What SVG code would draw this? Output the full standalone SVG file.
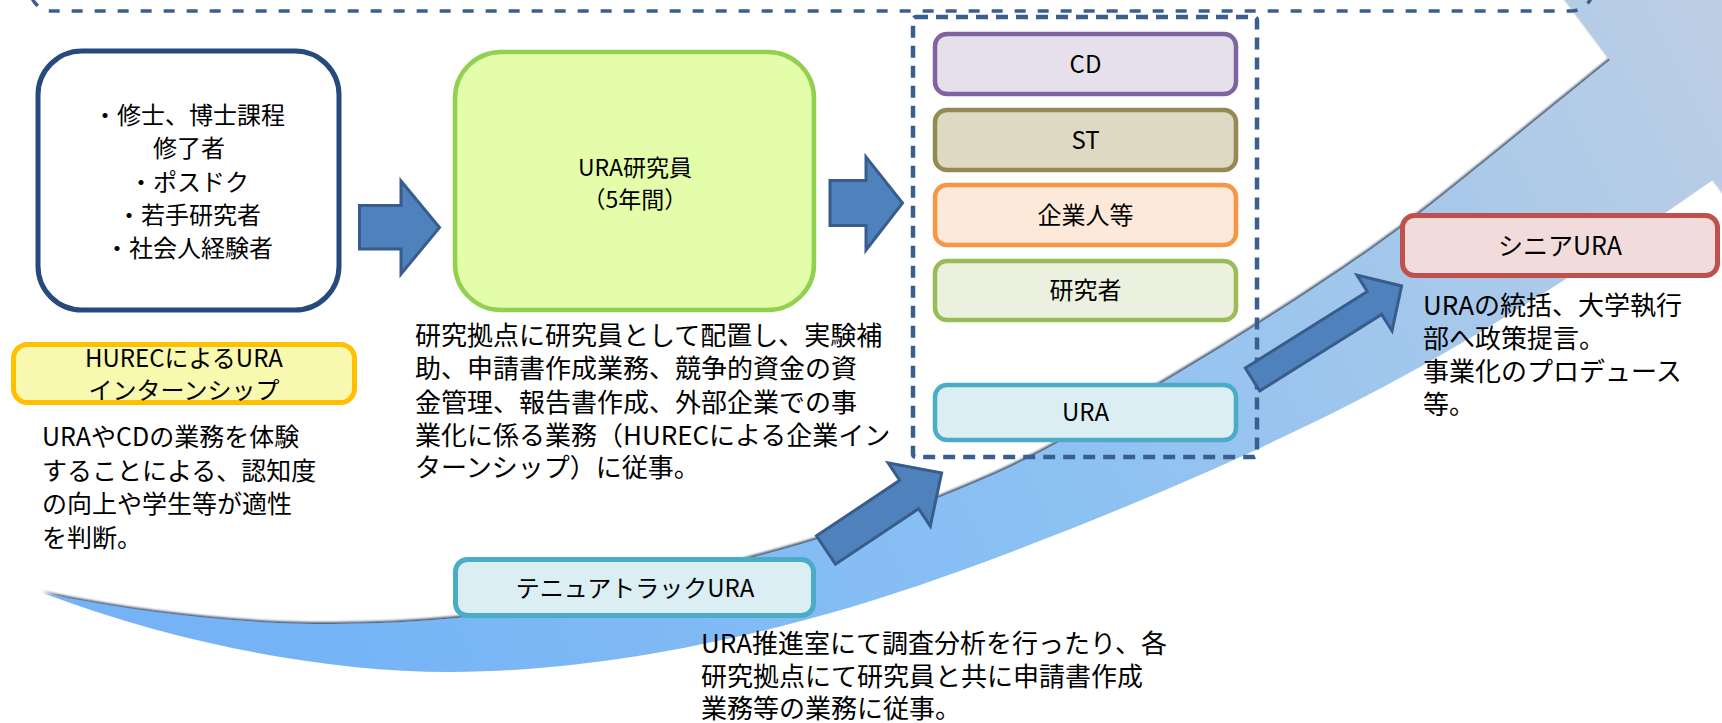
<svg xmlns="http://www.w3.org/2000/svg" width="1722" height="723" viewBox="0 0 1722 723">
<defs>
  <style>
    .t { font-family: "Noto Sans CJK JP", "Noto Sans", sans-serif; fill: #000; }
    .c { text-anchor: middle; }
    .arrow { fill: #4F81BD; stroke: #385D8A; stroke-width: 3; stroke-linejoin: miter; }
    .dash { fill: none; stroke: #3A5F8F; }
  </style>
  <linearGradient id="swg" gradientUnits="userSpaceOnUse" x1="300" y1="690" x2="1700" y2="0">
    <stop offset="0" stop-color="#74B3F6"/>
    <stop offset="0.5" stop-color="#8CC1F3"/>
    <stop offset="1" stop-color="#BCCEE4"/>
  </linearGradient>
  <filter id="sh" x="-5%" y="-5%" width="110%" height="110%">
    <feGaussianBlur in="SourceAlpha" stdDeviation="1.2" result="b"/>
    <feOffset in="b" dx="-1" dy="-2" result="o"/>
    <feFlood flood-color="#1C3354" flood-opacity="0.8"/>
    <feComposite in2="o" operator="in" result="s"/>
    <feMerge><feMergeNode in="s"/><feMergeNode in="SourceGraphic"/></feMerge>
  </filter>
</defs>
<rect width="1722" height="723" fill="#FFFFFF"/>

<g id="swoosh">
  <path filter="url(#sh)" fill="url(#swg)" d="M43,593 C180,645 330,672 450,672 C600,672 780,635 940,578 C1100,521 1280,445 1420,367 C1520,311 1620,245 1713,180 L1773,260 L1900,-150 L1520,-60 L1610,60 C1550,108 1480,166 1420,213 C1340,276 1180,375 1057,443 C900,530 650,590 457,618 C330,630 200,625 43,593 Z"/>
</g>

<g id="top-frame">
  <rect class="dash" x="30" y="-200" width="1563" height="211" rx="22" stroke-width="3.5" stroke-dasharray="11 12"/>
</g>

<g id="node-candidates">
  <rect x="38" y="51" width="301" height="259" rx="44" fill="#FFFFFF" stroke="#274A7C" stroke-width="5"/>
  <text class="t c" font-size="24" x="189" y="124">・修士、博士課程<tspan x="189" dy="33">修了者</tspan><tspan x="189" dy="34">・ポスドク</tspan><tspan x="189" dy="33">・若手研究者</tspan><tspan x="189" dy="33">・社会人経験者</tspan></text>
</g>

<g id="node-ura-researcher">
  <rect x="455" y="52" width="359" height="258" rx="46" fill="#E3FDAA" stroke="#92D050" stroke-width="4.5"/>
  <text class="t c" font-size="23" x="635" y="176">URA研究員<tspan x="635" dy="32">（5年間）</tspan></text>
</g>

<g id="node-ura-researcher-desc">
  <text class="t" font-size="26" x="415" y="345">研究拠点に研究員として配置し、実験補<tspan x="415" dy="33">助、申請書作成業務、競争的資金の資</tspan><tspan x="415" dy="34">金管理、報告書作成、外部企業での事</tspan><tspan x="415" dy="33">業化に係る業務（HURECによる企業イン</tspan><tspan x="415" dy="32">ターンシップ）に従事。</tspan></text>
</g>

<g id="node-hurec">
  <rect x="13.5" y="344.5" width="341" height="58" rx="14" fill="#F8F9AF" stroke="#FFC000" stroke-width="5"/>
  <text class="t c" font-size="24" x="184" y="367">HURECによるURA<tspan x="184" dy="32">インターンシップ</tspan></text>
</g>

<g id="node-hurec-desc">
  <text class="t" font-size="25" x="42" y="446">URAやCDの業務を体験<tspan x="42" dy="34">することによる、認知度</tspan><tspan x="42" dy="33">の向上や学生等が適性</tspan><tspan x="42" dy="34">を判断。</tspan></text>
</g>

<g id="node-career-group">
  <rect class="dash" x="913" y="17" width="344" height="440" rx="3" stroke-width="4.5" stroke-dasharray="12 8"/>
</g>
<g id="node-cd">
  <rect x="935" y="34" width="301" height="60" rx="12" fill="#E5E0EC" stroke="#8064A2" stroke-width="4.5"/>
  <text class="t c" font-size="24" x="1085.5" y="73">CD</text>
</g>
<g id="node-st">
  <rect x="935" y="110" width="301" height="60" rx="12" fill="#DDD9C3" stroke="#948A54" stroke-width="4.5"/>
  <text class="t c" font-size="24" x="1085.5" y="149">ST</text>
</g>
<g id="node-company">
  <rect x="935" y="185" width="301" height="60" rx="12" fill="#FDE9D9" stroke="#F79646" stroke-width="4.5"/>
  <text class="t c" font-size="24" x="1085.5" y="224">企業人等</text>
</g>
<g id="node-researcher">
  <rect x="935" y="261" width="301" height="59" rx="12" fill="#EBF1DE" stroke="#9BBB59" stroke-width="4.5"/>
  <text class="t c" font-size="24" x="1085.5" y="299">研究者</text>
</g>
<g id="node-ura">
  <rect x="935" y="385" width="301" height="55" rx="12" fill="#DBEEF4" stroke="#4BACC6" stroke-width="4.5"/>
  <text class="t c" font-size="24" x="1085.5" y="421">URA</text>
</g>

<g id="node-senior">
  <rect x="1402.5" y="215.5" width="315" height="60" rx="12" fill="#F2DCDB" stroke="#C0504D" stroke-width="5"/>
  <text class="t c" font-size="25" x="1560" y="255">シニアURA</text>
</g>
<g id="node-senior-desc">
  <text class="t" font-size="26" x="1423" y="315">URAの統括、大学執行<tspan x="1423" dy="33">部へ政策提言。</tspan><tspan x="1423" dy="33">事業化のプロデュース</tspan><tspan x="1423" dy="33">等。</tspan></text>
</g>

<g id="node-tenure">
  <rect x="455.5" y="559.5" width="358" height="56" rx="12" fill="#DBEEF4" stroke="#4BACC6" stroke-width="5"/>
  <text class="t c" font-size="24" x="635" y="597">テニュアトラックURA</text>
</g>
<g id="node-tenure-desc">
  <text class="t" font-size="26" x="701" y="653">URA推進室にて調査分析を行ったり、各<tspan x="701" dy="33">研究拠点にて研究員と共に申請書作成</tspan><tspan x="701" dy="32">業務等の業務に従事。</tspan></text>
</g>

<g id="connectors">
  <polygon class="arrow" points="359.5,205.5 401,205.5 401,181 439.5,227.5 401,274 401,249 359.5,249"/>
  <polygon class="arrow" points="830,180.5 866,180.5 866,157 902.5,203 866,250 866,225.5 830,225.5"/>
  <polygon class="arrow" transform="translate(826,550) rotate(-33.7)" points="0,-17 100,-17 100,-38 139,0 100,38 100,17 0,17"/>
  <polygon class="arrow" transform="translate(1252.5,379.5) rotate(-32.1)" points="0,-13.5 144,-13.5 144,-33 176,0 144,33 144,13.5 0,13.5"/>
</g>
</svg>
